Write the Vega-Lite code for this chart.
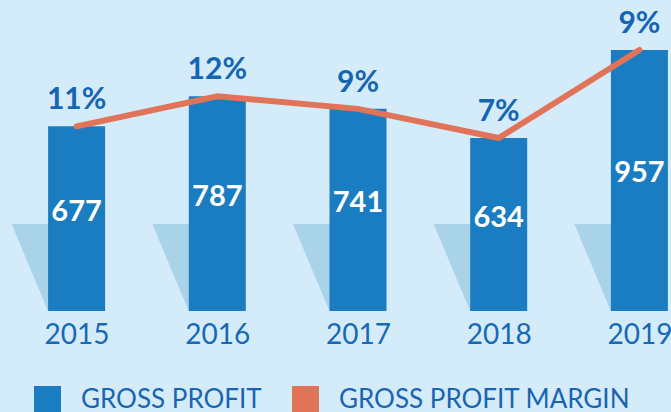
{
  "$schema": "https://vega.github.io/schema/vega-lite/v6.json",
  "autosize": {"type": "none"},
  "width": 626,
  "height": 311,
  "padding": {"left": 45, "top": 0, "right": 0, "bottom": 101},
  "background": "#d4ecfa",
  "config": {"view": {"stroke": null}},
  "data": {
    "values": [
      {"year": "2015", "profit": 677, "margin": 0.11},
      {"year": "2016", "profit": 787, "margin": 0.12},
      {"year": "2017", "profit": 741, "margin": 0.09},
      {"year": "2018", "profit": 634, "margin": 0.07},
      {"year": "2019", "profit": 957, "margin": 0.09}
    ]
  },
  "encoding": {
    "x": {
      "field": "year",
      "type": "ordinal",
      "sort": null,
      "scale": {"type": "point", "padding": 0.2246},
      "axis": {
        "title": null,
        "domain": false,
        "ticks": false,
        "tickSize": 0,
        "labelAngle": 0,
        "labelFont": "Lato",
        "labelFontSize": 28,
        "labelColor": "#1768b5",
        "labelPadding": 10
      }
    }
  },
  "layer": [
    {
      "layer": [
        {
          "mark": {
            "type": "point",
            "shape": "M -0.747 -1 L 0.3 -1 L 0.3 0 L -0.328 0 Z",
            "size": 30276,
            "filled": true,
            "color": "#a8d3e9",
            "opacity": 1,
            "strokeWidth": 0
          },
          "encoding": {
            "y": {"datum": 0, "type": "quantitative", "scale": {"domain": [0, 1140], "nice": false}, "axis": null}
          }
        },
        {
          "mark": {"type": "bar", "size": 57},
          "encoding": {
            "y": {"field": "profit", "type": "quantitative", "scale": {"domain": [0, 1140], "nice": false}, "axis": null},
            "color": {
              "datum": "GROSS PROFIT",
              "type": "nominal",
              "scale": {"domain": ["GROSS PROFIT", "GROSS PROFIT MARGIN"], "range": ["#1a7dc1", "#e07358"]},
              "legend": {
                "title": null,
                "orient": "none",
                "legendX": -11,
                "legendY": 386,
                "direction": "horizontal",
                "symbolType": "square",
                "symbolSize": 729,
                "labelFont": "Lato",
                "labelFontSize": 26,
                "labelColor": "#1a64b0",
                "labelOffset": 20,
                "columnPadding": 30,
                "padding": 0,
                "labelLimit": 0,
                "encode": {
                  "symbols": {
                    "update": {
                      "fill": {"signal": "datum.value === 'GROSS PROFIT' ? '#1566b3' : '#d75f45'"},
                      "stroke": {"value": "transparent"},
                      "strokeWidth": {"value": 0},
                      "opacity": {"value": 1}
                    }
                  }
                }
              }
            }
          }
        },
        {
          "mark": {"type": "line", "strokeWidth": 6, "strokeCap": "round"},
          "encoding": {
            "y": {"field": "profit", "type": "quantitative", "scale": {"domain": [0, 1140], "nice": false}, "axis": null},
            "color": {"datum": "GROSS PROFIT MARGIN", "type": "nominal"}
          }
        },
        {
          "mark": {"type": "text", "font": "Lato", "fontSize": 30, "fontWeight": "bold", "color": "#1565b3", "baseline": "alphabetic", "dy": -17},
          "encoding": {
            "y": {"field": "profit", "type": "quantitative", "scale": {"domain": [0, 1140], "nice": false}, "axis": null},
            "text": {"field": "margin", "type": "quantitative", "format": ".0%"}
          }
        }
      ]
    },
    {
      "mark": {"type": "text", "font": "Lato", "fontSize": 29, "fontWeight": "bold", "color": "white", "baseline": "middle", "dy": -7},
      "encoding": {
        "y": {"field": "profit", "type": "quantitative", "scale": {"domain": [0, 2280], "nice": false}, "axis": null},
        "text": {"field": "profit", "type": "quantitative"}
      }
    }
  ],
  "resolve": {"scale": {"y": "independent"}}
}
